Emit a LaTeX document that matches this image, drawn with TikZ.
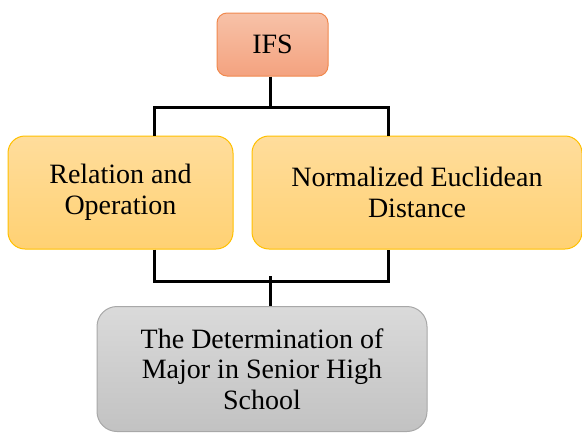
\documentclass[tikz,border=0pt]{standalone}
\usepackage{fontspec}
\setmainfont{Liberation Serif}
\begin{document}
\begin{tikzpicture}[x=1pt,y=-1pt,
  every node/.style={align=center, font=\fontsize{28}{30.5}\selectfont, inner sep=0pt},
  ifsbox/.style={draw=ifsBorder, line width=1pt, rounded corners=10pt,
    top color=ifsTop, bottom color=ifsBot, minimum width=111pt, minimum height=63pt},
  midbox/.style={draw=yelBorder, line width=1pt, rounded corners=17pt,
    top color=yelTop, bottom color=yelBot, minimum height=113pt},
  endbox/.style={draw=greyBorder, line width=1pt, rounded corners=20pt,
    top color=greyTop, bottom color=greyBot, minimum width=330pt, minimum height=125pt},
  conn/.style={draw=black, line width=3pt, line join=miter}]
\definecolor{ifsTop}{HTML}{F7C2A8}
\definecolor{ifsBot}{HTML}{F4A27F}
\definecolor{ifsBorder}{HTML}{F0894E}
\definecolor{yelTop}{HTML}{FFDD9C}
\definecolor{yelBot}{HTML}{FFD173}
\definecolor{yelBorder}{HTML}{FFC000}
\definecolor{greyTop}{HTML}{DADADA}
\definecolor{greyBot}{HTML}{C2C2C2}
\definecolor{greyBorder}{HTML}{A8A8A8}
\useasboundingbox (0,0) rectangle (582,432);

\node[ifsbox] (ifs) at (272.5,44.5) {IFS};
\node[midbox, minimum width=225pt] (rel) at (120.5,192.5) {Relation and\\Operation};
\node[midbox, minimum width=330pt] (ned) at (417,192.5) {Normalized Euclidean\\Distance};
\node[endbox] (det) at (262,369) {The Determination of\\Major in Senior High\\School};

\coordinate (topj) at (270,107);
\coordinate (tl) at (154,107);
\coordinate (tr) at (388,107);
\coordinate (bl) at (154,281);
\coordinate (br) at (388,281);
\coordinate (bj) at (270,276);

\draw[conn] (ifs.south -| topj) -- (topj);
\draw[conn] (rel.north -| tl) -- (tl) -- (tr) -- (ned.north -| tr);
\draw[conn] (rel.south -| bl) -- (bl) -- (br) -- (ned.south -| br);
\draw[conn] (bj) -- (det.north -| bj);
\end{tikzpicture}
\end{document}
